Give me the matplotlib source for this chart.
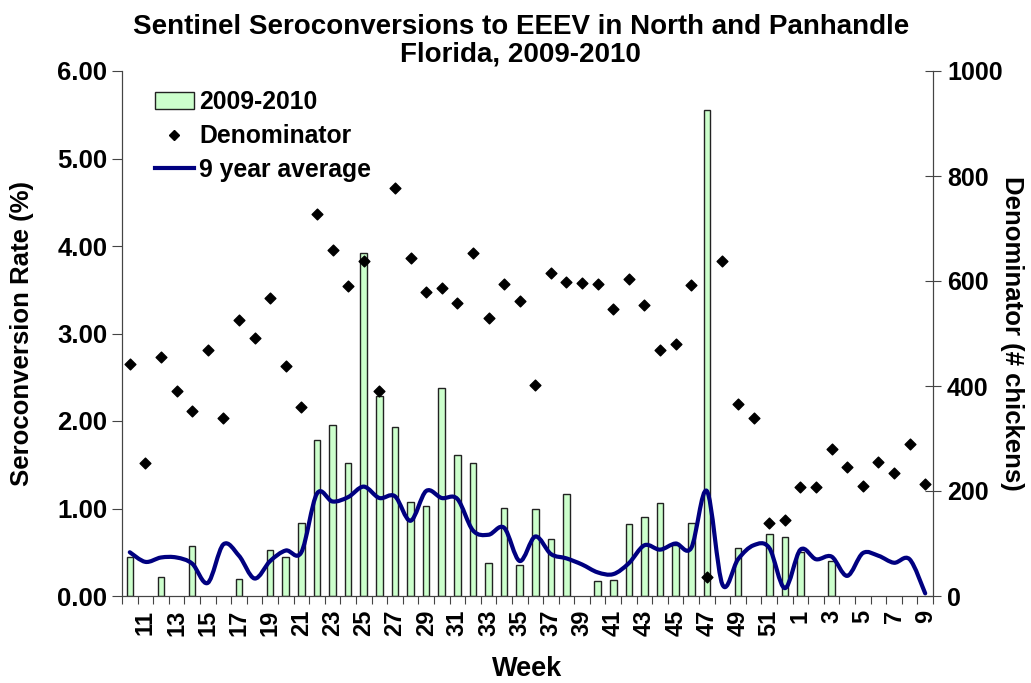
import numpy as np
import matplotlib
matplotlib.use("Agg")
import matplotlib.pyplot as plt
from matplotlib.path import Path
from matplotlib.patches import PathPatch, Patch
from matplotlib.lines import Line2D

plt.rcParams['font.family'] = ['Liberation Sans', 'DejaVu Sans']
plt.rcParams['font.weight'] = 'bold'

weeks = [10, 11, 12, 13, 14, 15, 16, 17, 18, 19, 20, 21, 22, 23, 24, 25, 26, 27, 28, 29,
         30, 31, 32, 33, 34, 35, 36, 37, 38, 39, 40, 41, 42, 43, 44, 45, 46, 47, 48, 49,
         50, 51, 52, 1, 2, 3, 4, 5, 6, 7, 8, 9]

rate_2009_2010 = [0.45, 0, 0.22, 0, 0.57, 0, 0, 0.19, 0, 0.53, 0.45, 0.83, 1.78, 1.96, 1.52,
                  3.92, 2.29, 1.93, 1.08, 1.03, 2.38, 1.61, 1.52, 0.38, 1.01, 0.35, 0.99, 0.65,
                  1.17, 0, 0.17, 0.18, 0.82, 0.90, 1.06, 0.58, 0.84, 5.55, 0, 0.55, 0, 0.71,
                  0.68, 0.50, 0, 0.40, 0, 0, 0, 0, 0, 0]

denominator = [442, 254, 455, 391, 352, 469, 340, 525, 492, 567, 438, 360, 728, 660, 590,
               638, 391, 777, 643, 580, 587, 558, 654, 530, 595, 561, 401, 615, 598, 596,
               594, 547, 604, 554, 469, 480, 592, 36, 639, 366, 340, 140, 145, 208, 208,
               280, 246, 209, 255, 234, 290, 214]

avg_9yr = [0.50, 0.39, 0.44, 0.44, 0.37, 0.15, 0.59, 0.46, 0.20, 0.40, 0.52, 0.50, 1.17,
           1.08, 1.13, 1.25, 1.12, 1.14, 0.86, 1.20, 1.12, 1.11, 0.75, 0.70, 0.78, 0.40,
           0.68, 0.48, 0.43, 0.36, 0.27, 0.25, 0.375, 0.58, 0.53, 0.60, 0.55, 1.20, 0.13,
           0.42, 0.58, 0.55, 0.09, 0.53, 0.42, 0.45, 0.23, 0.49, 0.46, 0.38, 0.42, 0.03]

fig = plt.figure(figsize=(10.31, 6.83), dpi=100)
ax = fig.add_axes([122 / 1031, 1 - 596 / 683, 811 / 1031, 525 / 683])
ax2 = ax.twinx()

x = np.arange(len(weeks))
bar_vals = np.array(rate_2009_2010, dtype=float)
mask = bar_vals > 0
ax.bar(x[mask], bar_vals[mask], width=0.42, color='#CCFFCC', edgecolor='#222222',
       linewidth=1.0, zorder=2)

# Smoothed line (Catmull-Rom rendered as cubic Bezier)
P = np.column_stack([x, np.array(avg_9yr, dtype=float)])
verts = [P[0]]
codes = [Path.MOVETO]
n = len(P)
for i in range(n - 1):
    p0 = P[i - 1] if i > 0 else P[i]
    p1 = P[i]
    p2 = P[i + 1]
    p3 = P[i + 2] if i + 2 < n else P[i + 1]
    c1 = p1 + (p2 - p0) / 6.0
    c2 = p2 - (p3 - p1) / 6.0
    verts += [c1, c2, p2]
    codes += [Path.CURVE4] * 3
ax.add_patch(PathPatch(Path(verts, codes), fill=False, edgecolor='#000080', linewidth=3.0,
                       capstyle='round', joinstyle='round', zorder=4))

ax2.scatter(x, denominator, marker='D', s=30, color='black', zorder=5)

ax.set_xlim(-0.5, len(weeks) - 0.5)
ax.set_ylim(0, 6)
ax2.set_ylim(0, 1000)

ax.set_yticks(np.arange(0, 6.01, 1))
ax.set_yticklabels([f"{v:.2f}" for v in np.arange(0, 6.01, 1)])
ax2.set_yticks(np.arange(0, 1001, 200))

lab_idx = x[1::2]
ax.set_xticks(lab_idx)
ax.set_xticklabels([str(weeks[i]) for i in lab_idx], rotation=90)
ax.set_xticks(np.arange(-0.5, len(weeks), 1), minor=True)
ax.tick_params(axis='x', which='major', length=0, labelsize=17, pad=10)
ax.tick_params(axis='x', which='minor', length=6, width=0.8, direction='out', color='#444444')
ax.tick_params(axis='y', length=7, width=0.8, direction='out', labelsize=18.5, color='#444444')
ax2.tick_params(axis='y', length=12, width=0.8, direction='inout', labelsize=18, color='#444444', pad=4)

for a in (ax, ax2):
    a.spines['top'].set_visible(False)
    for s in ('left', 'right', 'bottom'):
        a.spines[s].set_color('#444444')
        a.spines[s].set_linewidth(0.8)

ax.set_ylabel('Seroconversion Rate (%)', fontsize=18.5, fontweight='bold')
ax.yaxis.set_label_coords(-0.109, 0.5)
ax2.set_ylabel('Denominator (# chickens)', fontsize=18.5, fontweight='bold', rotation=-90,
               va='bottom')
ax2.yaxis.set_label_coords(1.083, 0.5)
ax.set_xlabel('Week', fontsize=19.5, fontweight='bold', labelpad=14)

fig.suptitle('Sentinel Seroconversions to EEEV in North and Panhandle\nFlorida, 2009-2010',
             x=0.505, y=0.98, fontsize=20, fontweight='bold', linespacing=1.08)

handles = [Patch(facecolor='#CCFFCC', edgecolor='#222222', linewidth=1.0),
           Line2D([], [], marker='D', linestyle='none', color='black', markersize=5),
           Line2D([], [], color='#000080', linewidth=3.0)]
labels = ['2009-2010', 'Denominator', '9 year average']
ax2.legend(handles, labels, loc='upper left', bbox_to_anchor=(0.028, 0.982), frameon=False,
           fontsize=17.8, handlelength=1.6, handletextpad=0.2, labelspacing=0.4,
           borderaxespad=0)

fig.savefig('out.png', dpi=100)
